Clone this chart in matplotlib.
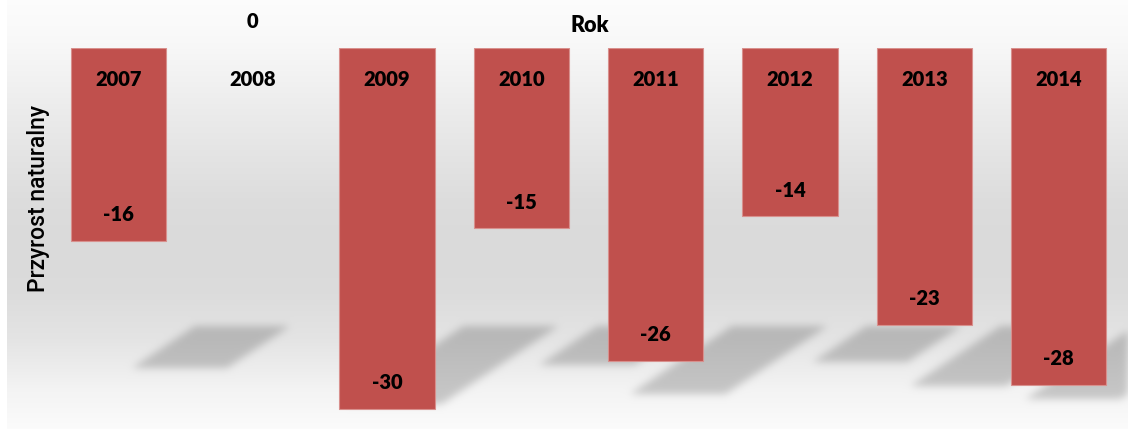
import numpy as np
import matplotlib
matplotlib.use("Agg")
import matplotlib.pyplot as plt
from matplotlib.path import Path

# ---- data ----
years = ["2007", "2008", "2009", "2010", "2011", "2012", "2013", "2014"]
values = [-16, 0, -30, -15, -26, -14, -23, -28]
y_label = "Przyrost naturalny"
x_title = "Rok"

W, H = 1145, 429
DPI = 100
fig = plt.figure(figsize=(W / DPI, H / DPI), dpi=DPI)
fig.patch.set_facecolor("white")

FONT = ["Lato", "DejaVu Sans"]
bar_color = "#c0504d"

# main axes
ax_l, ax_r, ax_t, ax_b = 51.35, 1125.65, 48.0, 415.0
ax = fig.add_axes([ax_l / W, 1 - ax_b / H, (ax_r - ax_l) / W, (ax_b - ax_t) / H], zorder=2)
ax.patch.set_alpha(0)
x = np.arange(len(years))
lws = [0.8 if v != 0 else 0 for v in values]
ax.bar(x, values, width=0.71, color=bar_color, edgecolor="#d8908d", linewidth=lws, zorder=3)
ax.set_xlim(-0.5, len(years) - 0.5)
ax.set_ylim(-30.5, 0)
ax.set_axis_off()

for i, (yr, v) in enumerate(zip(years, values)):
    ax.annotate(yr, xy=(i, 0), xytext=(0, -32), textcoords="offset pixels",
                ha="center", va="center", fontsize=14.5, fontweight=800,
                family=FONT, color="black", zorder=5)
    ax.annotate(f"{v}", xy=(i, v), xytext=(0, 26), textcoords="offset pixels",
                ha="center", va="center", fontsize=14.5, fontweight=800,
                family=FONT, color="black", zorder=5)

fig.text(590 / W, 1 - 25 / H, x_title, ha="center", va="center", fontsize=15.5,
         fontweight=800, family=FONT)
fig.text(39 / W, 1 - 198 / H, y_label, ha="center", va="center", rotation=90,
         fontsize=16.5, fontweight="medium", family=["Roboto", "DejaVu Sans"], color="black")

# ---- background panel with gradient and blurred shadows ----
p_l, p_r = 7, 1128
pw, ph = p_r - p_l, H
bg = fig.add_axes([p_l / W, 0, pw / W, 1], zorder=0)
bg.set_axis_off()

stops_y = [0, 40, 110, 200, 240, 290, 340, 390, 429]
stops_v = [0.99, 0.975, 0.925, 0.865, 0.855, 0.86, 0.895, 0.955, 0.985]
rows = np.interp(np.arange(ph) + 0.5, stops_y, stops_v)
grad = np.repeat(rows[:, None], pw, axis=1)

# shadow polygons derived from bars, in display pixels
fig.canvas.draw()
to_disp = ax.transData
mask = np.zeros((ph, pw))
yy, xx = np.mgrid[0:ph, 0:pw]
pts = np.column_stack([(xx + p_l + 0.5).ravel(), (H - yy - 0.5).ravel()])
floor_px = 326.0
for i, v in enumerate(values):
    if v == 0:
        continue
    (lx, _), = to_disp.transform([(i - 0.355, 0)])
    (rx, _), = to_disp.transform([(i + 0.355, 0)])
    sh = 2.6 * abs(v)
    skew = 1.5 * sh
    top = H - floor_px
    bot = H - (floor_px + sh)
    poly = Path([(lx + 124, top), (rx + 124, top), (rx + 124 - skew, bot),
                 (lx + 124 - skew, bot), (lx + 124, top)])
    inside = poly.contains_points(pts).reshape(ph, pw)
    mask = np.maximum(mask, inside.astype(float))

def blur(a, s):
    r = int(3 * s)
    k = np.exp(-0.5 * (np.arange(-r, r + 1) / s) ** 2)
    k /= k.sum()
    a = np.apply_along_axis(lambda m: np.convolve(m, k, mode="same"), 0, a)
    a = np.apply_along_axis(lambda m: np.convolve(m, k, mode="same"), 1, a)
    return a

mask = blur(mask, 4.0)
img = grad * (1 - 0.19 * mask)
bg.imshow(np.dstack([img, img, img]), extent=(0, pw, 0, ph), aspect="auto",
          interpolation="nearest", origin="upper")
bg.set_xlim(0, pw)
bg.set_ylim(0, ph)

fig.savefig("out.png", dpi=DPI)
